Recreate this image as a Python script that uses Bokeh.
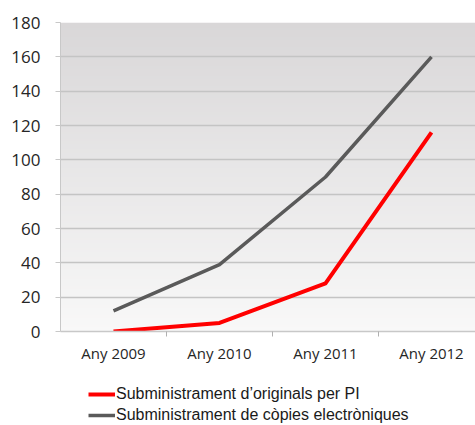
import numpy as np
from bokeh.plotting import figure
from bokeh.layouts import column
from bokeh.models import (Range1d, FixedTicker, Legend, LegendItem, LinearColorMapper)
from bokeh.embed import file_html
from bokeh.resources import INLINE

# ---- data ----
years = ["Any 2009", "Any 2010", "Any 2011", "Any 2012"]
originals = [0, 5, 28, 116]
copies = [12, 39, 90, 160]
series_names = ["Subministrament d\u2019originals per PI",
                "Subministrament de c\u00f2pies electr\u00f2niques"]
y_ticks = [0, 20, 40, 60, 80, 100, 120, 140, 160, 180]

xs = list(range(len(years)))
red, grey = "#ff0000", "#5a5a5a"

p = figure(width=475, height=365, output_backend="svg", toolbar_location=None,
           x_range=Range1d(-0.5, 3.415), y_range=Range1d(0, 180),
           min_border_left=60, min_border_right=0, min_border_top=22,
           min_border_bottom=34)
p.outline_line_color = None
p.background_fill_color = "white"
p.border_fill_color = "white"

# background gradient
def hex2rgb(h):
    h = h.lstrip("#")
    return np.array([int(h[i:i + 2], 16) for i in (0, 2, 4)], dtype=float)

c0, c1 = hex2rgb("#f8f8f8"), hex2rgb("#d9d7d8")
pal = ["#%02x%02x%02x" % tuple(int(round(v)) for v in c0 + (c1 - c0) * t)
       for t in np.linspace(0, 1, 128)]
grad = np.linspace(0, 1, 128).reshape(128, 1)
cm = LinearColorMapper(palette=pal, low=0, high=1)
p.image(image=[grad], x=-0.5, y=0, dw=4.0, dh=180, color_mapper=cm, level="image")

# grid
p.xgrid.grid_line_color = None
p.ygrid.grid_line_color = "#c4c4c4"
p.ygrid.grid_line_width = 1.5
p.ygrid.ticker = FixedTicker(ticks=y_ticks)

# y axis
p.yaxis.ticker = FixedTicker(ticks=y_ticks)
p.yaxis.axis_line_color = "#c8c8c8"
p.yaxis.major_tick_line_color = "#c8c8c8"
p.yaxis.major_tick_out = 5
p.yaxis.major_tick_in = 0
p.yaxis.minor_tick_line_color = None
p.yaxis.major_label_text_font = "Open Sans"
p.yaxis.major_label_text_font_size = "17px"
p.yaxis.major_label_text_color = "#262626"
p.yaxis.major_label_standoff = 15

# x axis
p.xaxis.ticker = FixedTicker(ticks=xs, minor_ticks=[x + 0.5 for x in xs[:-1]])
p.xaxis.major_label_overrides = {i: y for i, y in zip(xs, years)}
p.xaxis.axis_line_color = "#c8c8c8"
p.xaxis.axis_line_width = 1.5
p.xaxis.major_tick_line_color = None
p.xaxis.major_tick_out = 0
p.xaxis.major_tick_in = 0
p.xaxis.minor_tick_line_color = "#b0b0b0"
p.xaxis.minor_tick_out = 5
p.xaxis.minor_tick_in = 0
p.xaxis.major_label_text_font = "Open Sans"
p.xaxis.major_label_text_font_size = "15px"
p.xaxis.major_label_text_color = "#262626"
p.xaxis.major_label_standoff = 6

p.line(xs, originals, line_color=red, line_width=4, line_join="round")
p.line(xs, copies, line_color=grey, line_width=3.5, line_join="round")

# legend strip (separate figure so the legend is not clipped by the plot frame)
q = figure(width=475, height=60, output_backend="svg", toolbar_location=None,
           x_range=Range1d(100, 101), y_range=Range1d(100, 101),
           x_axis_type=None, y_axis_type=None,
           min_border_left=0, min_border_right=0, min_border_top=0, min_border_bottom=0)
q.outline_line_color = None
q.grid.grid_line_color = None
q.background_fill_color = "white"
q.border_fill_color = "white"
l1 = q.line(xs, originals, line_color=red, line_width=4)
l2 = q.line(xs, copies, line_color=grey, line_width=3.5)

legend = Legend(items=[LegendItem(label=series_names[0], renderers=[l1]),
                       LegendItem(label=series_names[1], renderers=[l2])],
                location=(28, 1), orientation="vertical",
                label_text_font="Liberation Sans", label_text_font_size="16px",
                label_text_color="#1a1a1a", label_height=16, glyph_height=16,
                glyph_width=27, label_standoff=1, spacing=3, padding=0, margin=0,
                border_line_color=None, background_fill_alpha=0)
q.add_layout(legend, "center")

layout = column(p, q, spacing=0)
open("out.html", "w").write(file_html(layout, INLINE))
